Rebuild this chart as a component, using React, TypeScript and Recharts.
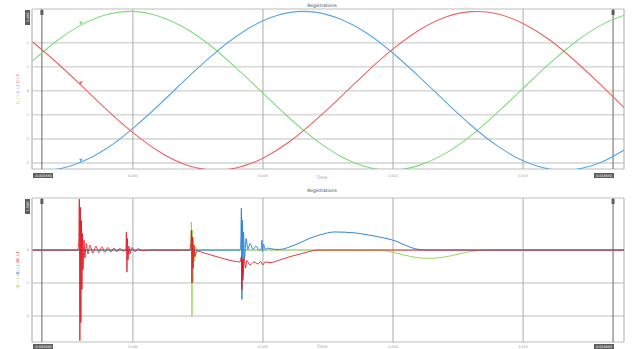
import React from "react"
import { LineChart, Line, XAxis, YAxis, CartesianGrid, ReferenceLine } from "recharts"

// time axis in ms (50 Hz, one period = 20 ms)
const T_MIN = -3.88
const T_MAX = 18.88
const TIME_TICKS = [T_MIN, 0, 5, 10, 15, T_MAX]
const CURSORS = [-3.5, 18.46]

// phase voltages
const V_MIN = -3.25
const V_MAX = 3.4
const VOLT_TICKS = [V_MIN, -3, -2, -1, 0, 1, 2, 3, V_MAX]
const WAVE_T = [-3.88, -3, -2, -1, 0, 1, 2, 3, 4, 5, 6, 7, 8, 9, 10, 11, 12, 13, 14, 15, 16, 17, 18, 18.88]
const U_L1 = [1.22, 2.02, 2.73, 3.17, 3.3, 3.1, 2.61, 1.86, 0.92, -0.1, -1.12, -2.02, -2.73, -3.17, -3.3, -3.1, -2.61, -1.86, -0.92, 0.1, 1.12, 2.02, 2.73, 3.14]
const U_L2 = [-3.26, -3.27, -2.97, -2.39, -1.56, -0.59, 0.44, 1.43, 2.28, 2.91, 3.25, 3.27, 2.97, 2.39, 1.56, 0.59, -0.44, -1.43, -2.28, -2.91, -3.25, -3.27, -2.97, -2.46]
const U_L3 = [2.05, 1.24, 0.24, -0.79, -1.74, -2.52, -3.06, -3.29, -3.2, -2.8, -2.13, -1.24, -0.24, 0.79, 1.74, 2.52, 3.06, 3.29, 3.2, 2.8, 2.13, 1.24, 0.24, -0.69]
const MARK_T = -2

// deviation traces
const D_MIN = -2.79
const D_MAX = 1.58
const DIFF_TICKS = [D_MIN, -2, -1, 0, 1, D_MAX]

const D_L1_T = [-3.88, 2.19, 2.23, 2.25, 2.27, 2.29, 2.31, 2.33, 2.37, 2.42, 2.5, 2.62, 9.5, 9.88, 10.27, 10.65, 11.04, 11.42, 11.81, 12.19, 12.58, 12.96, 13.35, 13.73, 18.88]
const D_L1 = [0, 0, 0.3, 0.85, -2.0, 0.6, -1.0, 0.35, -0.35, 0.1, -0.05, 0, 0, -0.05, -0.12, -0.19, -0.24, -0.25, -0.23, -0.18, -0.11, -0.05, -0.01, 0, 0]

const D_L2_T = [-3.88, 4.12, 4.15, 4.17, 4.19, 4.21, 4.23, 4.25, 4.29, 4.35, 4.42, 4.5, 4.62, 4.73, 4.85, 4.94, 4.96, 4.98, 5.02, 5.08, 5.19, 5.46, 5.65, 6.04, 6.42, 6.81, 7.19, 7.77, 8.54, 9.12, 9.69, 10.08, 10.46, 10.85, 11.23, 18.88]
const D_L2 = [0, 0, 0.3, 1.27, -1.5, 0.9, -0.7, 0.55, -0.25, 0.35, 0.02, 0.2, 0.02, 0.12, 0, 0.06, 0.3, -0.05, 0.18, 0.02, 0.06, 0.02, 0.02, 0.1, 0.22, 0.36, 0.46, 0.55, 0.52, 0.45, 0.36, 0.28, 0.15, 0.04, 0, 0]

const D_L3_T = [-3.88, -2.12, -2.08, -2.06, -2.04, -2.02, -2.0, -1.98, -1.96, -1.94, -1.92, -1.88, -1.85, -1.79, -1.73, -1.65, -1.54, -1.42, -1.31, -1.19, -1.08, -0.96, -0.85, -0.73, -0.62, -0.5, -0.38, -0.27, -0.25, -0.23, -0.21, -0.19, -0.15, -0.12, -0.04, 0.08, 0.19, 0.35, 0.58, 2.19, 2.23, 2.25, 2.27, 2.29, 2.31, 2.35, 2.38, 2.46, 2.58, 2.96, 3.35, 3.73, 4.12, 4.17, 4.19, 4.21, 4.23, 4.27, 4.33, 4.38, 4.5, 4.65, 4.81, 4.92, 5.0, 5.08, 5.27, 5.65, 6.04, 6.42, 6.81, 7.12, 18.88]
const D_L3 = [0, 0, 0.3, 1.55, -2.75, 1.3, -2.2, 0.9, -1.2, 0.5, -0.6, 0.3, -0.25, 0.2, -0.12, 0.15, -0.1, 0.12, -0.08, 0.1, -0.07, 0.08, -0.06, 0.06, -0.05, 0.05, -0.03, 0, 0.55, -0.67, 0.35, -0.3, 0.12, -0.12, 0.08, -0.05, 0.04, -0.02, 0, 0, 0.2, 0.6, -1.0, 0.4, -0.55, 0.15, -0.2, -0.02, -0.05, -0.14, -0.23, -0.31, -0.36, -0.2, -1.2, -0.3, -0.9, -0.25, -0.55, -0.32, -0.45, -0.36, -0.42, -0.35, -0.45, -0.36, -0.38, -0.3, -0.2, -0.12, -0.04, 0, 0]

const GREEN = "#7fdc7a"
const BLUE = "#5aa6e6"
const RED = "#e86666"
const D_GREEN = "#9ad85a"
const D_BLUE = "#2f86d8"
const D_RED = "#e0141e"
const BOX = "#5c5c5c"
const FONT = "DejaVu Sans"

const waveData = WAVE_T.map((t, i) => ({ t, l1: U_L1[i], l2: U_L2[i], l3: U_L3[i] }))
const pairs = (ts: number[], vs: number[]) => ts.map((t, i) => ({ t, v: vs[i] }))
const diffL1 = pairs(D_L1_T, D_L1)
const diffL2 = pairs(D_L2_T, D_L2)
const diffL3 = pairs(D_L3_T, D_L3)

const fmtTime = (t: number, digits: number) => (t / 1000).toFixed(digits)

const makeTimeTick = (boxOffset: number) => (props: any) => {
  const { x, y, payload } = props
  const v = payload.value
  if (v === T_MIN || v === T_MAX) {
    const w = 20
    const rx = v === T_MIN ? x + 1 : x - w
    return (
      <g>
        <rect x={rx} y={y + boxOffset} width={w} height={5} fill={BOX} />
        <text x={rx + w / 2} y={y + boxOffset + 3.8} fontSize={3.4} fill="#fff" textAnchor="middle" fontFamily={FONT}>
          {fmtTime(v, 6)}
        </text>
      </g>
    )
  }
  return (
    <text x={x} y={y + boxOffset + 4} fontSize={3.4} fill="#9a9a9a" textAnchor="middle" fontFamily={FONT}>
      {fmtTime(v, 3)}
    </text>
  )
}

const makeValueTick = (lo: number, hi: number) => (props: any) => {
  const { x, y, payload } = props
  const v = payload.value
  if (v === lo || v === hi) {
    const h = 15
    const ry = v === hi ? y + 1 : y - h - 1
    const cx = x - 2.5
    const cy = ry + h / 2
    return (
      <g>
        <rect x={x - 5} y={ry} width={5} height={h} fill={BOX} />
        <text x={cx} y={cy + 1.2} fontSize={3.4} fill="#fff" textAnchor="middle" fontFamily={FONT}
          transform={`rotate(-90 ${cx} ${cy})`}>
          {v.toFixed(3)}
        </text>
      </g>
    )
  }
  return (
    <text x={x - 1} y={y + 1.2} fontSize={3.4} fill="#8a8a8a" textAnchor="end" fontFamily={FONT}>
      {v}
    </text>
  )
}

const axisTitle = (parts: [string, string][]) => (props: any) => {
  const { viewBox } = props
  const cx = 19
  const cy = viewBox.y + viewBox.height / 2
  return (
    <text x={cx} y={cy} fontSize={4} textAnchor="middle" fontFamily={FONT} transform={`rotate(-90 ${cx} ${cy})`}>
      {parts.map(([s, c], i) => (
        <tspan key={i} fill={c}>{s + " "}</tspan>
      ))}
    </text>
  )
}

const cursorFlag = (props: any) => {
  const { viewBox } = props
  return <rect x={viewBox.x - 1.5} y={viewBox.y + 1} width={3} height={5} fill={BOX} />
}

const arrowDot = (color: string) => (p: any) => {
  if (p.payload.t !== MARK_T) return <g key={p.index} />
  const { cx, cy } = p
  return <path key={p.index} d={`M${cx - 1.8},${cy - 3.5} L${cx + 1.8},${cy - 3.5} L${cx},${cy} Z`} fill={color} />
}

const Caption = ({ x, y, text, color = "#555" }: { x: number; y: number; text: string; color?: string }) => (
  <div style={{ position: "absolute", left: x - 40, top: y, width: 80, textAlign: "center", fontSize: 4.5, color, fontFamily: FONT, lineHeight: "5px" }}>
    {text}
  </div>
)

function WaveChart() {
  return (
    <LineChart width={632} height={180} data={waveData} margin={{ top: 9, right: 8, left: 8, bottom: 0 }}>
      <CartesianGrid vertical={false} stroke="#dedede" strokeWidth={2} />
      <CartesianGrid horizontal={false} stroke="#ababab" strokeWidth={1} />
      <XAxis dataKey="t" type="number" domain={[T_MIN, T_MAX]} ticks={TIME_TICKS} height={11}
        tickSize={0} tickLine={false} axisLine={false} tick={makeTimeTick(2)} allowDataOverflow />
      <YAxis type="number" domain={[V_MIN, V_MAX]} ticks={VOLT_TICKS} width={24} tickSize={0} tickLine={false}
        axisLine={{ stroke: "#cfcfcf" }} tick={makeValueTick(V_MIN, V_MAX)} allowDataOverflow
        label={{ content: axisTitle([["U L1", GREEN], ["U L2", BLUE], ["U L3", RED]]) }} />
      {CURSORS.map((c) => (
        <ReferenceLine key={c} x={c} stroke="#666" strokeWidth={1} label={{ content: cursorFlag }} />
      ))}
      <Line type="natural" dataKey="l1" stroke={GREEN} strokeWidth={1.1} dot={arrowDot(GREEN)} isAnimationActive={false} />
      <Line type="natural" dataKey="l2" stroke={BLUE} strokeWidth={1.1} dot={arrowDot(BLUE)} isAnimationActive={false} />
      <Line type="natural" dataKey="l3" stroke={RED} strokeWidth={1.1} dot={arrowDot(RED)} isAnimationActive={false} />
    </LineChart>
  )
}

function DiffChart() {
  return (
    <LineChart width={632} height={169} margin={{ top: 18, right: 8, left: 8, bottom: 0 }}>
      <CartesianGrid vertical={false} stroke="#dedede" strokeWidth={2} />
      <CartesianGrid horizontal={false} stroke="#ababab" strokeWidth={1} />
      <XAxis dataKey="t" type="number" domain={[T_MIN, T_MAX]} ticks={TIME_TICKS} height={7}
        tickSize={0} tickLine={false} axisLine={false} tick={makeTimeTick(0)} allowDataOverflow />
      <YAxis type="number" domain={[D_MIN, D_MAX]} ticks={DIFF_TICKS} width={24} tickSize={0} tickLine={false}
        axisLine={{ stroke: "#cfcfcf" }} tick={makeValueTick(D_MIN, D_MAX)} allowDataOverflow
        label={{ content: axisTitle([["dU L1", D_GREEN], ["dU L2", D_BLUE], ["dU L3", D_RED]]) }} />
      {CURSORS.map((c) => (
        <ReferenceLine key={c} x={c} stroke="#666" strokeWidth={1} label={{ content: cursorFlag }} />
      ))}
      <Line data={diffL1} type="monotone" dataKey="v" stroke={D_GREEN} strokeWidth={1} dot={false} isAnimationActive={false} />
      <Line data={diffL2} type="monotone" dataKey="v" stroke={D_BLUE} strokeWidth={1} dot={false} isAnimationActive={false} />
      <Line data={diffL3} type="monotone" dataKey="v" stroke={D_RED} strokeWidth={1} strokeOpacity={0.85} dot={false} isAnimationActive={false} />
    </LineChart>
  )
}

export default function App() {
  return (
    <div style={{ position: "absolute", left: 0, top: 0, width: 632, height: 349, background: "#fff", overflow: "hidden" }}>
      <div style={{ position: "absolute", left: 0, top: 0 }}>
        <WaveChart />
      </div>
      <div style={{ position: "absolute", left: 0, top: 180 }}>
        <DiffChart />
      </div>
      <Caption x={322} y={3} text="Registrations" color="#444" />
      <Caption x={322} y={175} text="Time" color="#999" />
      <Caption x={322} y={188} text="Registrations" color="#444" />
      <Caption x={322} y={344} text="Time" color="#999" />
    </div>
  )
}
